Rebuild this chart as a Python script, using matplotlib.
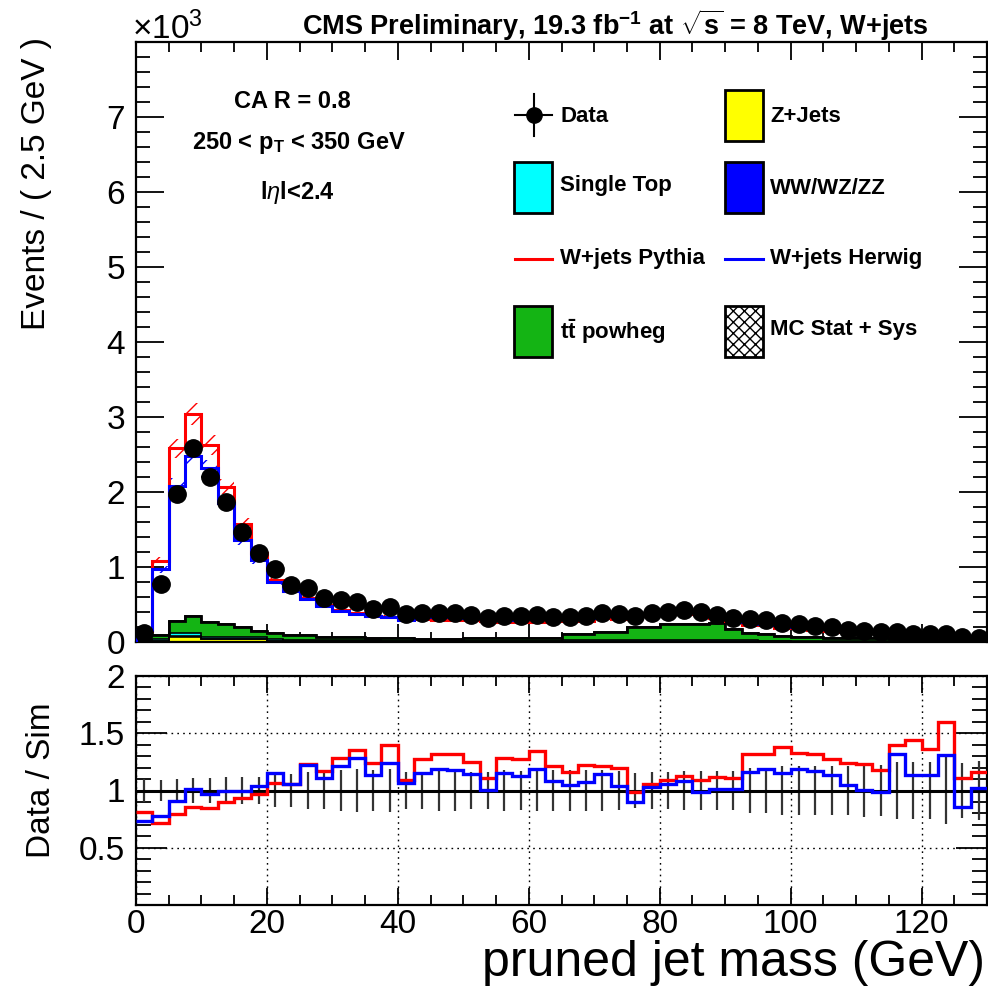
import numpy as np
import matplotlib
matplotlib.use("Agg")
import matplotlib.pyplot as plt
from matplotlib import font_manager
from matplotlib.patches import Rectangle
from matplotlib.lines import Line2D
from matplotlib.ticker import MultipleLocator, FuncFormatter, FixedLocator

# ---------------- data ----------------
bin_width = 2.5
edges = np.arange(0, 130.0 + 0.001, bin_width)

data = [120, 773, 1973, 2591, 2204, 1862, 1471, 1182, 969, 756,
        716, 582, 560, 538, 436, 471, 369, 391, 391, 391,
        360, 316, 347, 347, 360, 338, 338, 347, 391, 374,
        347, 391, 404, 427, 404, 360, 316, 307, 293, 258,
        240, 213, 196, 160, 151, 138, 138, 107, 107, 110,
        71, 58]

wjets_pythia = [150, 1080, 2582, 3040, 2627, 2071, 1573, 1182, 827, 684,
                582, 489, 427, 382, 347, 340, 302, 306, 297, 296,
                288, 285, 270, 272, 268, 279, 291, 283, 322, 313,
                352, 370, 369, 379, 369, 322, 285, 232, 222, 187,
                181, 162, 153, 129, 122, 117, 99, 74, 78, 69,
                64, 50]

wjets_herwig = [160, 969, 2080, 2480, 2316, 1849, 1360, 1093, 805, 684,
                570, 480, 420, 375, 345, 335, 300, 339, 329, 331,
                316, 314, 300, 308, 304, 313, 324, 323, 341, 360,
                386, 380, 382, 395, 408, 355, 311, 264, 246, 223,
                203, 183, 173, 153, 150, 140, 104, 95, 95, 84,
                83, 57]

zjets = [10, 15, 70, 70, 35, 35, 35, 35, 15, 12,
         10, 10, 8, 8, 8, 6, 6, 6, 5, 5,
         5, 5, 5, 5, 5, 5, 5, 5, 5, 5,
         5, 5, 5, 5, 5, 5, 5, 5, 4, 4,
         4, 4, 3, 3, 3, 3, 3, 3, 3, 3,
         3, 3]
diboson = [3, 4, 6, 6, 5, 5, 4, 4, 4, 3,
           3, 3, 3, 3, 3, 3, 3, 3, 3, 3,
           3, 3, 3, 3, 3, 3, 3, 3, 3, 3,
           3, 3, 3, 3, 3, 3, 3, 3, 3, 3,
           2, 2, 2, 2, 2, 2, 2, 2, 2, 2,
           2, 2]
single_top = [15, 20, 50, 50, 30, 30, 30, 25, 15, 12,
              10, 10, 10, 10, 10, 10, 10, 10, 10, 10,
              10, 10, 12, 12, 12, 12, 15, 15, 15, 15,
              18, 18, 18, 18, 18, 18, 15, 15, 12, 12,
              10, 10, 8, 8, 8, 8, 6, 6, 6, 6,
              5, 5]
ttbar = [72, 61, 158, 221, 201, 166, 127, 87, 82, 66,
         70, 48, 50, 50, 39, 36, 31, 26, 26, 26,
         30, 30, 38, 38, 40, 40, 84, 84, 105, 115,
         170, 170, 210, 210, 220, 230, 155, 101, 83, 65,
         55, 55, 45, 45, 35, 35, 29, 29, 29, 29,
         30, 30]

ratio_pythia = [0.810, 0.716, 0.795, 0.854, 0.845, 0.898, 0.933, 0.971, 1.067, 1.058,
                1.234, 1.167, 1.287, 1.351, 1.243, 1.395, 1.096, 1.278, 1.316, 1.322,
                1.249, 1.108, 1.287, 1.278, 1.342, 1.213, 1.161, 1.225, 1.213, 1.196,
                0.985, 1.058, 1.096, 1.126, 1.096, 1.117, 1.108, 1.322, 1.322, 1.380,
                1.327, 1.316, 1.278, 1.240, 1.234, 1.181, 1.395, 1.444, 1.365, 1.599,
                1.108, 1.161]
ratio_herwig = [0.737, 0.775, 0.912, 1.015, 0.971, 1.000, 1.000, 1.035, 1.155, 1.058,
                1.225, 1.111, 1.213, 1.284, 1.132, 1.240, 1.067, 1.152, 1.190, 1.181,
                1.140, 1.006, 1.155, 1.126, 1.184, 1.079, 1.044, 1.073, 1.146, 1.038,
                0.898, 1.029, 1.058, 1.082, 0.991, 1.015, 1.015, 1.161, 1.190, 1.155,
                1.184, 1.167, 1.132, 1.044, 1.006, 0.985, 1.322, 1.132, 1.132, 1.307,
                0.854, 1.023]
ratio_unc = [0.10, 0.09, 0.10, 0.11, 0.11, 0.12, 0.12, 0.12, 0.14, 0.14,
             0.16, 0.16, 0.18, 0.19, 0.18, 0.19, 0.16, 0.16, 0.18, 0.18,
             0.16, 0.16, 0.18, 0.17, 0.18, 0.18, 0.18, 0.18, 0.18, 0.17,
             0.15, 0.16, 0.16, 0.17, 0.17, 0.17, 0.17, 0.20, 0.20, 0.21,
             0.21, 0.21, 0.21, 0.21, 0.23, 0.22, 0.25, 0.25, 0.25, 0.29,
             0.24, 0.26]

band_frac = 0.05

x_major = [0, 20, 40, 60, 80, 100, 120]
y_major = [0, 1000, 2000, 3000, 4000, 5000, 6000, 7000]

# ---------------- fonts ----------------
def have(fam):
    try:
        font_manager.findfont(fam, fallback_to_default=False)
        return True
    except Exception:
        return False

SANS = "Liberation Sans" if have("Liberation Sans") else "DejaVu Sans"

plt.rcParams["font.family"] = [SANS, "DejaVu Sans"]
plt.rcParams["mathtext.fontset"] = "custom"
plt.rcParams["mathtext.rm"] = SANS
plt.rcParams["mathtext.it"] = SANS + ":italic"
plt.rcParams["mathtext.bf"] = SANS + ":bold"
plt.rcParams["hatch.linewidth"] = 1.0

W, H = 988, 986
fig = plt.figure(figsize=(W / 100, H / 100), dpi=100)

def fx(x):
    return x / W

def fy(y):
    return 1 - y / H

L, R = 136, 987
ax = fig.add_axes([fx(L), fy(642), fx(R) - fx(L), fy(42) - fy(642)])
axr = fig.add_axes([fx(L), fy(905), fx(R) - fx(L), fy(676) - fy(905)])

data = np.array(data, float)
wp = np.array(wjets_pythia, float)
wh = np.array(wjets_herwig, float)
centers = 0.5 * (edges[:-1] + edges[1:])

# ---------------- top panel ----------------
green = "#14b414"
layers = [(zjets, "#ffff00"), (diboson, "#0000ff"), (single_top, "#00ffff"), (ttbar, green)]
base = np.zeros(len(data))
for vals, col in layers:
    vals = np.array(vals, float)
    ax.stairs(base + vals, edges, baseline=base, fill=True, color=col, lw=0, zorder=2)
    ax.stairs(base + vals, edges, baseline=None, color="black", lw=1.2, zorder=3)
    base = base + vals
ax.stairs(base, edges, baseline=0, color="black", lw=2.0, zorder=3)

# MC uncertainty hatches
for vals, col in [(wp, "red"), (wh, "blue")]:
    lo = np.append(vals * (1 - band_frac), vals[-1] * (1 - band_frac))
    hi = np.append(vals * (1 + band_frac), vals[-1] * (1 + band_frac))
    ax.fill_between(edges, lo, hi, step="post", facecolor="none", edgecolor=col,
                    hatch="//", lw=0, zorder=4)

ax.stairs(wp, edges, baseline=0, color="red", lw=2.2, zorder=5)
ax.stairs(wh, edges, baseline=0, color="blue", lw=2.2, zorder=6)

ax.errorbar(centers, data, yerr=np.sqrt(data), xerr=bin_width / 2, fmt="o", color="black",
            ms=12.5, lw=1.2, capsize=0, zorder=7)

ax.set_xlim(0, 130)
ax.set_ylim(0, 8000)
ax.xaxis.set_major_locator(FixedLocator(x_major))
ax.xaxis.set_minor_locator(MultipleLocator(5))
ax.yaxis.set_major_locator(FixedLocator(y_major))
ax.yaxis.set_minor_locator(MultipleLocator(200))
ax.yaxis.set_major_formatter(FuncFormatter(lambda v, p: f"{v/1000:g}"))
ax.set_xticklabels([])
ax.tick_params(axis="both", which="both", direction="in", top=True, right=True, width=1.3, color="black")
ax.tick_params(axis="y", which="major", length=20, labelsize=24, pad=8)
ax.tick_params(axis="y", which="minor", length=10)
ax.tick_params(axis="x", which="major", length=13)
ax.tick_params(axis="x", which="minor", length=7)
for s in ax.spines.values():
    s.set_linewidth(1.6)

# ---------------- ratio panel ----------------
axr.axhline(1.0, color="black", lw=2.2, zorder=3)
axr.errorbar(centers, np.ones(len(centers)), yerr=ratio_unc, fmt="none", ecolor="#333333",
             elinewidth=1.6, capsize=0, zorder=2)
axr.stairs(ratio_pythia, edges, baseline=None, color="red", lw=2.4, zorder=4)
axr.stairs(ratio_herwig, edges, baseline=None, color="blue", lw=2.4, zorder=5)
axr.set_xlim(0, 130)
axr.set_ylim(0, 2)
axr.xaxis.set_major_locator(FixedLocator(x_major))
axr.xaxis.set_minor_locator(MultipleLocator(5))
axr.yaxis.set_major_locator(FixedLocator([0.5, 1.0, 1.5, 2.0]))
axr.yaxis.set_minor_locator(MultipleLocator(0.1))
axr.yaxis.set_major_formatter(FuncFormatter(lambda v, p: f"{v:g}"))
axr.grid(True, which="major", axis="both", color="black", ls=(0, (1.2, 3)), lw=1.0, zorder=0)
axr.tick_params(axis="both", which="both", direction="in", top=True, right=True, width=1.3)
axr.tick_params(axis="y", which="major", length=22, labelsize=24, pad=8)
axr.tick_params(axis="y", which="minor", length=11)
axr.tick_params(axis="x", which="major", length=12, labelsize=24, pad=3)
axr.tick_params(axis="x", which="minor", length=7)
for s in axr.spines.values():
    s.set_linewidth(1.6)

# ---------------- texts ----------------
fig.text(fx(985), fy(976), "pruned jet mass (GeV)", ha="right", va="baseline", fontsize=36)
fig.text(fx(37), fy(183), "Events / ( 2.5 GeV )", rotation=90, ha="center", va="center", fontsize=24)
fig.text(fx(42), fy(780), "Data / Sim", rotation=90, ha="center", va="center", fontsize=24)
fig.text(fx(132), fy(46), r"$\times$10$^{3}$", ha="left", va="bottom", fontsize=24)
fig.text(fx(615), fy(35), r"CMS Preliminary, 19.3 fb$^{\mathbf{-1}}$ at $\sqrt{\mathbf{s}}$ = 8 TeV, W+jets",
         ha="center", va="baseline", fontsize=19.5, fontweight="bold")

fig.text(fx(292), fy(101), "CA R = 0.8", ha="center", va="center", fontsize=17, fontweight="bold")
fig.text(fx(299), fy(143), r"250 < p$_{\mathbf{T}}$ < 350 GeV", ha="center", va="center", fontsize=17, fontweight="bold")
fig.text(fx(297), fy(193), r"l$\eta$l<2.4", ha="center", va="center", fontsize=17, fontweight="bold")

# ---------------- legend ----------------
def box(x0, y0, color, hatch=None):
    r = Rectangle((fx(x0), fy(y0 + 51)), fx(38), 51 / H, transform=fig.transFigure,
                  facecolor=color, edgecolor="black", lw=2.0, hatch=hatch, zorder=10)
    fig.add_artist(r)

def label(x0, y0, s):
    fig.text(fx(x0), fy(y0), s, ha="left", va="center", fontsize=16, fontweight="bold", zorder=10)

# Data
fig.add_artist(Line2D([fx(515), fx(552)], [fy(115), fy(115)], transform=fig.transFigure, color="black", lw=1.5))
fig.add_artist(Line2D([fx(534), fx(534)], [fy(94), fy(136)], transform=fig.transFigure, color="black", lw=1.5))
fig.add_artist(Line2D([fx(534)], [fy(115)], transform=fig.transFigure, color="black", marker="o", ms=11))
label(560, 116, "Data")
box(725, 90, "#ffff00"); label(770, 116, "Z+Jets")
box(514, 162, "#00ffff"); label(560, 186, "Single Top")
box(725, 162, "#0000ff"); label(770, 188, "WW/WZ/ZZ")
fig.add_artist(Line2D([fx(515), fx(552)], [fy(259), fy(259)], transform=fig.transFigure, color="red", lw=2.2))
label(560, 258, "W+jets Pythia")
fig.add_artist(Line2D([fx(725), fx(763)], [fy(259), fy(259)], transform=fig.transFigure, color="blue", lw=2.2))
label(770, 258, "W+jets Herwig")
box(514, 306, green); label(560, 332, r"t$\mathbf{\bar{t}}$ powheg")
box(725, 306, "white", hatch="xxx"); label(770, 330, "MC Stat + Sys")

fig.savefig("out.png", dpi=100)
